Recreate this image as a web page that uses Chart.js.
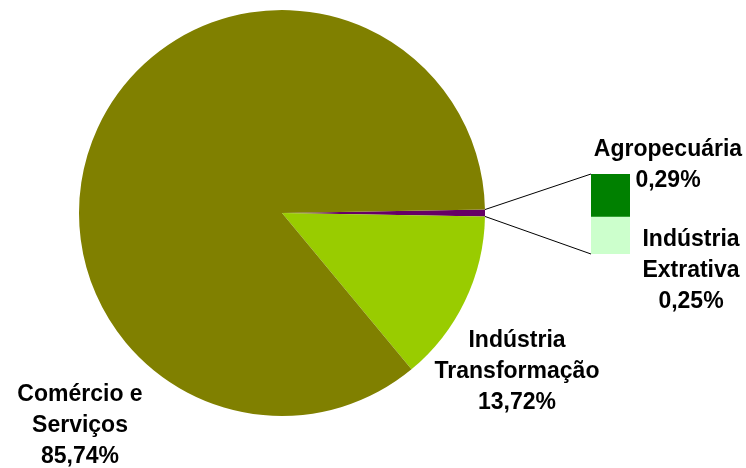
<!DOCTYPE html>
<html>
<head>
<meta charset="utf-8">
<script src="https://cdn.jsdelivr.net/npm/chart.js@4/dist/chart.umd.min.js"></script>
<style>
  html, body { margin: 0; padding: 0; background: #fff; }
  #wrap { position: relative; width: 746px; height: 468px; }
  #wrap canvas { position: absolute; left: 0; top: 0; }
</style>
</head>
<body>
<div id="wrap">
  <canvas id="pie" width="746" height="468"></canvas>
  <canvas id="sub" width="746" height="468"></canvas>
</div>
<script>
// main pie: the first slice is the "other" group broken out into the bar
const PIE_LABELS = ['Outros', 'Indústria Transformação', 'Comércio e Serviços'];
const PIE_VALUES = [0.54, 13.72, 85.74];
const PIE_COLORS = ['#660066', '#99CC00', '#808000'];

// secondary bar (bottom to top)
const SUB_LABELS = ['Indústria Extrativa', 'Agropecuária'];
const SUB_VALUES = [0.25, 0.29];
const SUB_COLORS = ['#CCFFCC', '#008000'];

const FONT = 'bold 23px "Liberation Sans", Arial, sans-serif';
const LINE_H = 31;

const pct = (v) => v.toFixed(2).replace('.', ',') + '%';

// label blocks: text lines plus centre x / first baseline
const LABELS = [
  { lines: ['Agropecuária', pct(SUB_VALUES[1])], x: 668, y: 156 },
  { lines: ['Indústria', 'Extrativa', pct(SUB_VALUES[0])], x: 691, y: 246 },
  { lines: ['Indústria', 'Transformação', pct(PIE_VALUES[1])], x: 517, y: 347 },
  { lines: ['Comércio e', 'Serviços', pct(PIE_VALUES[2])], x: 80, y: 401 }
];

const pieChart = new Chart(document.getElementById('pie'), {
  type: 'pie',
  data: {
    labels: PIE_LABELS,
    datasets: [{
      data: PIE_VALUES,
      backgroundColor: PIE_COLORS,
      borderWidth: 0,
      hoverOffset: 0,
      offset: 0
    }]
  },
  options: {
    responsive: false,
    animation: false,
    events: [],
    // centre the broken-out slice on 3 o'clock
    rotation: 90 - PIE_VALUES[0] * 3.6 / 2,
    layout: { padding: { left: 79, right: 261, top: 10, bottom: 52 } },
    plugins: { legend: { display: false }, tooltip: { enabled: false } }
  }
});

const overlay = {
  id: 'overlay',
  afterDraw(chart) {
    const ctx = chart.ctx;
    const arc = pieChart.getDatasetMeta(0).data[0];
    const top = chart.getDatasetMeta(1).data[0];
    const bottom = chart.getDatasetMeta(0).data[0];
    const left = top.x - top.width / 2;

    ctx.save();
    ctx.strokeStyle = '#000';
    ctx.lineWidth = 1;
    ctx.beginPath();
    ctx.moveTo(arc.x + arc.outerRadius * Math.cos(arc.startAngle), arc.y + arc.outerRadius * Math.sin(arc.startAngle));
    ctx.lineTo(left, top.y);
    ctx.moveTo(arc.x + arc.outerRadius * Math.cos(arc.endAngle), arc.y + arc.outerRadius * Math.sin(arc.endAngle));
    ctx.lineTo(left, bottom.base);
    ctx.stroke();

    ctx.fillStyle = '#000';
    ctx.font = FONT;
    ctx.textAlign = 'center';
    ctx.textBaseline = 'alphabetic';
    LABELS.forEach((lab) => {
      lab.lines.forEach((t, i) => ctx.fillText(t, lab.x, lab.y + i * LINE_H));
    });
    ctx.restore();
  }
};

new Chart(document.getElementById('sub'), {
  type: 'bar',
  data: {
    labels: ['Outros'],
    datasets: SUB_VALUES.map((v, i) => ({
      label: SUB_LABELS[i],
      data: [v],
      backgroundColor: SUB_COLORS[i],
      borderWidth: 0,
      barPercentage: 1,
      categoryPercentage: 1
    }))
  },
  options: {
    responsive: false,
    animation: false,
    events: [],
    layout: { padding: { left: 591, right: 116, top: 174, bottom: 214 } },
    scales: {
      x: { stacked: true, display: false },
      y: { stacked: true, display: false, min: 0, max: PIE_VALUES[0] }
    },
    plugins: { legend: { display: false }, tooltip: { enabled: false } }
  },
  plugins: [overlay]
});
</script>
</body>
</html>
